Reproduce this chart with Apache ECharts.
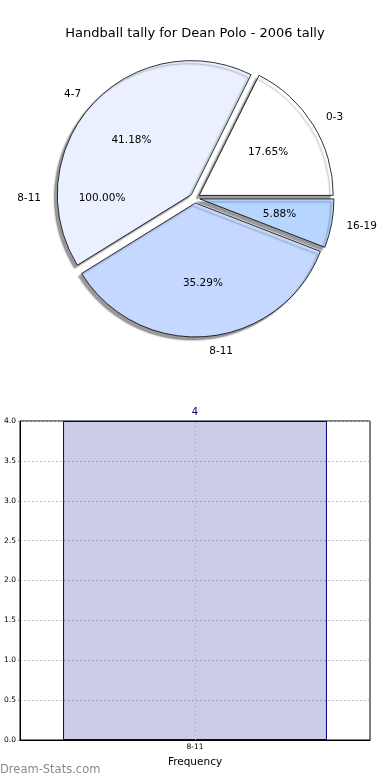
<!DOCTYPE html>
<html>
<head>
<meta charset="utf-8">
<script src="https://cdn.jsdelivr.net/npm/echarts@6/dist/echarts.min.js"></script>
<style>
html,body{margin:0;padding:0;background:#fff;}
#c{width:390px;height:780px;}
</style>
</head>
<body>
<div id="c"></div>
<script>
// ---- data ----
const titleText = 'Handball tally for Dean Polo - 2006 tally';
const pieNames = ['0-3', '4-7', '8-11', '16-19'];
const pieValues = [3, 7, 6, 1];
const pieColors = ['#ffffff', '#eaf0ff', '#c5d8ff', '#b6d5ff'];
const extraPieNames = ['8-11'];
const extraPieValues = [4];
const barCategories = ['8-11'];
const barValues = [4];
const yTicks = { min: 0, max: 4, interval: 0.5 };
const xAxisName = 'Frequency';
const watermark = 'Dream-Stats.com';

const FONT = 'DejaVu Sans';
const CX = 195, CY = 198, R = 134, OFFSET = 5;

function pieData(names, values, colors) {
  return names.map((n, i) => ({
    name: n, value: values[i], selected: true,
    itemStyle: colors ? { color: colors[i] } : undefined
  }));
}
const pctFmt = p => p.percent.toFixed(2) + '%';

const baseOuterLabel = {
  show: true, position: 'outside', formatter: '{b}',
  fontFamily: FONT, fontSize: 10.5, color: '#000', distanceToLabelLine: 0
};
const outerLine = { show: false, length: 15, length2: 0 };

const chart = echarts.init(document.getElementById('c'), null, { renderer: 'canvas' });
chart.setOption({
  animation: false,
  backgroundColor: '#fff',
  title: {
    text: titleText, left: 'center', top: 22,
    textStyle: { fontFamily: FONT, fontSize: 13, fontWeight: 'normal', color: '#000' }
  },
  graphic: [{
    type: 'text', left: 0, top: 764,
    style: { text: watermark, fontFamily: FONT, fontSize: 11.5, fill: '#8a8a8a' }
  }],
  grid: {
    left: 20, right: 20, top: 421, bottom: 40,
    show: true, borderColor: '#000', borderWidth: 1, backgroundColor: 'transparent'
  },
  xAxis: {
    type: 'category', data: barCategories,
    name: xAxisName, nameLocation: 'middle', nameGap: 17,
    nameTextStyle: { fontFamily: FONT, fontSize: 10.5, color: '#000' },
    axisLine: { lineStyle: { color: '#000', width: 1 } },
    axisTick: { show: false },
    axisLabel: { fontFamily: FONT, fontSize: 7.5, color: '#000', margin: 3 },
    splitLine: { show: false }
  },
  yAxis: {
    type: 'value', min: yTicks.min, max: yTicks.max, interval: yTicks.interval,
    axisLine: { show: true, lineStyle: { color: '#000', width: 1 } },
    axisTick: { show: true, length: 2, lineStyle: { color: '#888' } },
    axisLabel: { fontFamily: FONT, fontSize: 7.5, color: '#000', margin: 4, formatter: v => v.toFixed(1) },
    splitLine: { show: true, lineStyle: { color: '#b0b0b0', width: 1, type: [1.5, 2.5] } }
  },
  series: [
    {
      type: 'pie', center: [CX, CY], radius: [0, R],
      startAngle: 0, clockwise: false,
      selectedMode: 'multiple', selectedOffset: OFFSET,
      avoidLabelOverlap: false, silent: true,
      itemStyle: {
        borderColor: '#000', borderWidth: 0.8,
        shadowColor: 'rgba(0,0,0,0.4)', shadowBlur: 1.5, shadowOffsetX: -3, shadowOffsetY: 3
      },
      label: baseOuterLabel, labelLine: outerLine,
      data: pieData(pieNames, pieValues, pieColors),
      z: 2
    },
    {
      type: 'pie', center: [CX, CY], radius: [0, 156],
      startAngle: 0, clockwise: false,
      selectedMode: 'multiple', selectedOffset: OFFSET,
      avoidLabelOverlap: false, silent: true,
      itemStyle: { color: 'rgba(0,0,0,0)', borderWidth: 0 },
      label: { show: true, position: 'inside', formatter: pctFmt, fontFamily: FONT, fontSize: 10.5, color: '#000' },
      labelLine: { show: false },
      data: pieData(pieNames, pieValues, null),
      z: 3
    },
    {
      type: 'pie', center: [CX, CY], radius: [0, R],
      startAngle: 0, clockwise: false,
      selectedMode: 'multiple', selectedOffset: OFFSET,
      avoidLabelOverlap: false, silent: true,
      itemStyle: { color: 'rgba(0,0,0,0)', borderWidth: 0 },
      label: baseOuterLabel, labelLine: outerLine,
      data: pieData(extraPieNames, extraPieValues, null),
      z: 3
    },
    {
      type: 'pie', center: [CX, CY], radius: [0, 170],
      startAngle: 0, clockwise: false,
      selectedMode: 'multiple', selectedOffset: OFFSET,
      avoidLabelOverlap: false, silent: true,
      itemStyle: { color: 'rgba(0,0,0,0)', borderWidth: 0 },
      label: { show: true, position: 'inside', formatter: pctFmt, fontFamily: FONT, fontSize: 10.5, color: '#000' },
      labelLine: { show: false },
      data: pieData(extraPieNames, extraPieValues, null),
      z: 3
    },
    {
      type: 'bar', data: barValues, barWidth: '75.4%',
      itemStyle: { color: 'rgba(0,0,128,0.2)', borderColor: '#000080', borderWidth: 1 },
      label: { show: true, position: 'top', distance: 4, color: '#000080', fontFamily: FONT, fontSize: 10 },
      markLine: {
        silent: true, symbol: 'none', label: { show: false },
        lineStyle: { color: '#b0b0b0', width: 1, type: [1.5, 2.5] },
        data: barCategories.map(c => ({ xAxis: c }))
      },
      silent: true
    }
  ]
});
</script>
</body>
</html>
